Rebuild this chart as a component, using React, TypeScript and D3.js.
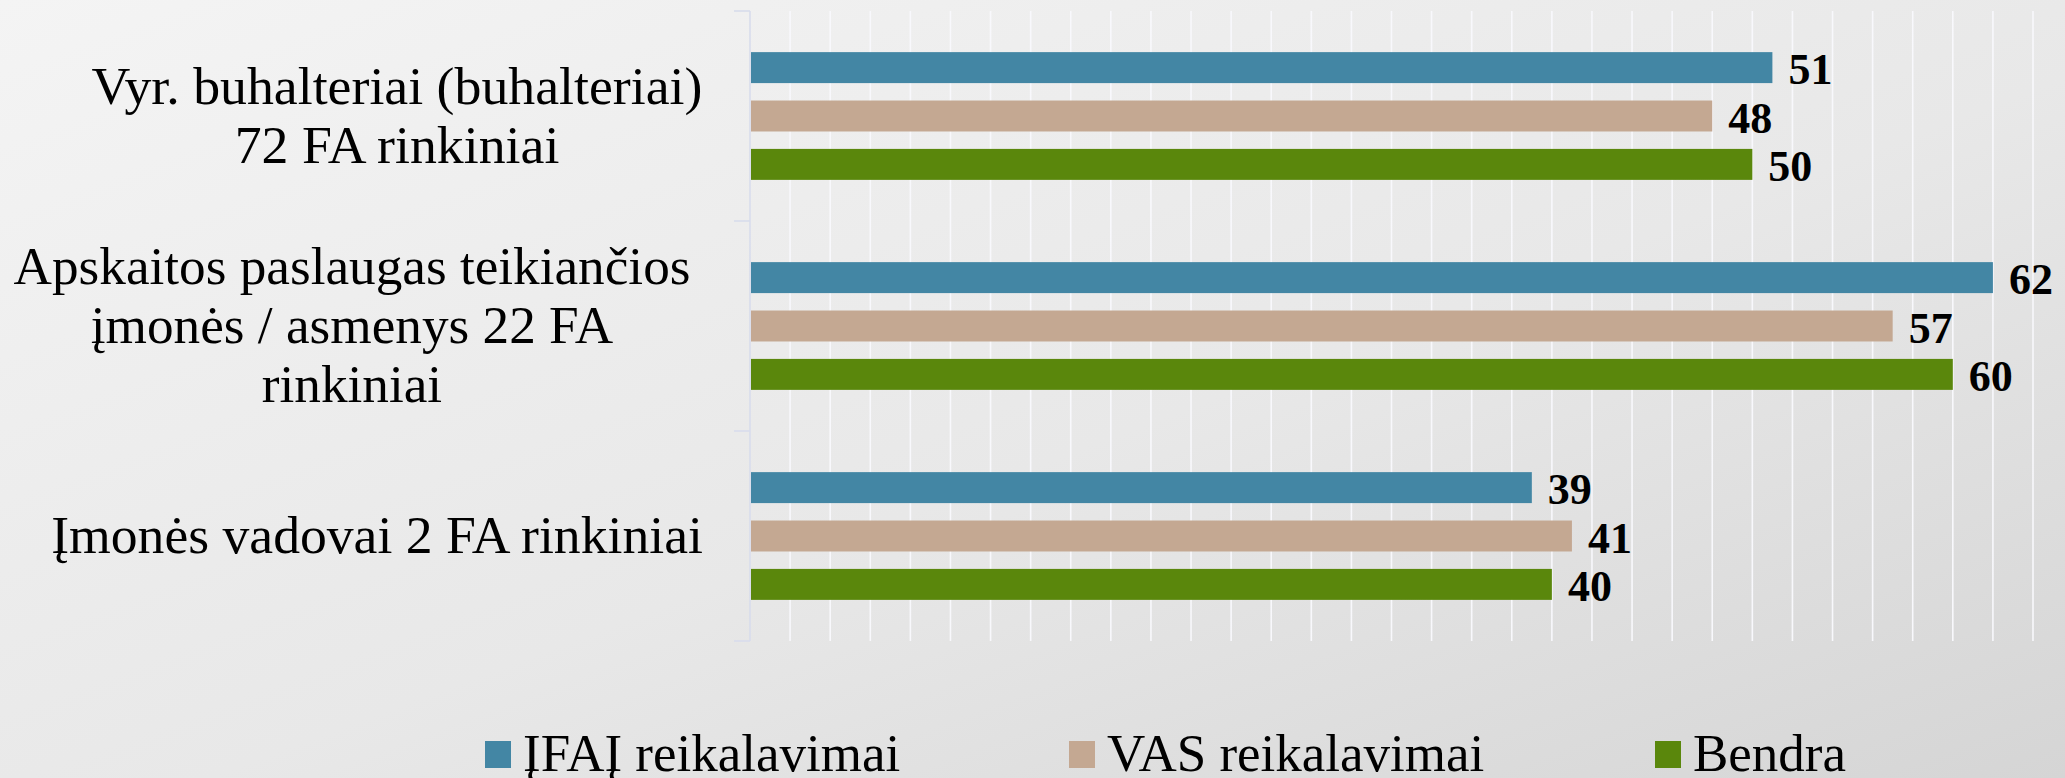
import { useEffect, useRef } from 'react';
import * as d3 from 'd3';

// Kategorijos (eilutėmis, kaip suskaidyta originale)
const categories = ['Vyr. buhalteriai', 'Apskaitos paslaugos', 'Įmonės vadovai'];
const categoryLines = [
  ['Vyr. buhalteriai (buhalteriai)', '72 FA rinkiniai'],
  ['Apskaitos paslaugas teikiančios', 'įmonės / asmenys 22 FA', 'rinkiniai'],
  ['Įmonės vadovai 2 FA rinkiniai'],
];
const seriesNames = ['ĮFAĮ reikalavimai', 'VAS reikalavimai', 'Bendra'];
const ifaiValues = [51, 62, 39];
const vasValues = [48, 57, 41];
const bendraValues = [50, 60, 40];
const xTicks = d3.range(0, 66, 2);

const colors = ['#4386a4', '#c4a892', '#5a870c'];

export default function App() {
  const svgRef = useRef<SVGSVGElement>(null);

  useEffect(() => {
    if (!svgRef.current) return;
    const svg = d3.select(svgRef.current);
    svg.selectAll('*').remove();

    const width = 2065;
    const height = 778;
    const plot = { left: 750, right: 2033, top: 11, bottom: 641 };
    const font = '"Liberation Serif", "Times New Roman", serif';

    svg.attr('width', width).attr('height', height);

    // fonas
    const defs = svg.append('defs');
    const grad = defs.append('linearGradient')
      .attr('id', 'bg')
      .attr('x1', '0%').attr('y1', '0%')
      .attr('x2', '100%').attr('y2', '100%');
    grad.append('stop').attr('offset', '0%').attr('stop-color', '#f4f4f4');
    grad.append('stop').attr('offset', '55%').attr('stop-color', '#e8e8e8');
    grad.append('stop').attr('offset', '100%').attr('stop-color', '#d5d5d5');
    svg.append('rect').attr('width', width).attr('height', height).attr('fill', 'url(#bg)');

    const xScale = d3.scaleLinear().domain([0, 64]).range([plot.left, plot.right]);
    const yGroup = d3.scaleBand<string>()
      .domain(categories)
      .range([plot.top, plot.bottom])
      .padding(0);
    const ySeries = d3.scaleBand<string>()
      .domain(seriesNames)
      .range([0, yGroup.bandwidth()])
      .paddingInner(0.36)
      .paddingOuter(0.85);

    // tinklelis
    svg.append('g')
      .selectAll('line')
      .data(xTicks.filter(t => t > 0))
      .enter()
      .append('line')
      .attr('x1', d => xScale(d))
      .attr('x2', d => xScale(d))
      .attr('y1', plot.top)
      .attr('y2', plot.bottom)
      .attr('stroke', '#f8f8fc')
      .attr('stroke-width', 1.6);

    // kategorijų ašis
    const axisColor = '#d8dcec';
    svg.append('line')
      .attr('x1', plot.left).attr('x2', plot.left)
      .attr('y1', plot.top).attr('y2', plot.bottom)
      .attr('stroke', axisColor).attr('stroke-width', 1.6);
    const boundaries = [...categories.map(c => yGroup(c) || 0), plot.bottom];
    svg.append('g')
      .selectAll('line')
      .data(boundaries)
      .enter()
      .append('line')
      .attr('x1', plot.left - 16).attr('x2', plot.left)
      .attr('y1', d => d).attr('y2', d => d)
      .attr('stroke', axisColor).attr('stroke-width', 1.6);

    const seriesValues = [ifaiValues, vasValues, bendraValues];
    const rows = categories.flatMap((c, ci) =>
      seriesNames.map((s, si) => ({ category: c, series: s, si, value: seriesValues[si][ci] }))
    );

    // stulpeliai
    svg.append('g')
      .selectAll('rect')
      .data(rows)
      .enter()
      .append('rect')
      .attr('x', xScale(0) + 1)
      .attr('y', d => (yGroup(d.category) || 0) + (ySeries(d.series) || 0))
      .attr('width', d => xScale(d.value) - xScale(0) - 1)
      .attr('height', ySeries.bandwidth())
      .attr('fill', d => colors[d.si]);

    // reikšmės
    svg.append('g')
      .selectAll('text')
      .data(rows)
      .enter()
      .append('text')
      .attr('x', d => xScale(d.value) + 16)
      .attr('y', d => (yGroup(d.category) || 0) + (ySeries(d.series) || 0) + ySeries.bandwidth() / 2)
      .attr('dy', 2)
      .attr('dominant-baseline', 'central')
      .attr('font-family', font)
      .attr('font-size', '44px')
      .attr('font-weight', '700')
      .attr('fill', '#000')
      .text(d => d.value);

    // kategorijų pavadinimai: bloko centras ir plačiausios eilutės plotis
    const labelCenters = [397, 352, 377];
    const labelWidths = [611, 677, 652];
    const lineHeight = 59;
    categories.forEach((c, ci) => {
      const lines = categoryLines[ci];
      const cy = (yGroup(c) || 0) + yGroup.bandwidth() / 2;
      const t = svg.append('text')
        .attr('font-family', font)
        .attr('font-size', '53px')
        .attr('fill', '#000')
        .attr('text-anchor', 'middle');
      const spans = t.selectAll('tspan')
        .data(lines)
        .enter()
        .append('tspan')
        .attr('x', labelCenters[ci])
        .attr('y', (_, i) => cy + (i - (lines.length - 1) / 2) * lineHeight + 17)
        .text(d => d);
      // pritaikome šrifto dydį, kad plačiausia eilutė atitiktų originalą
      let maxW = 0;
      spans.each(function () {
        maxW = Math.max(maxW, (this as SVGTSpanElement).getComputedTextLength());
      });
      if (maxW > 0) {
        const size = Math.max(48, Math.min(58, 53 * labelWidths[ci] / maxW));
        t.attr('font-size', `${size}px`);
      }
    });

    // legenda
    const legendX = [485, 1069, 1655];
    const legend = svg.append('g');
    seriesNames.forEach((s, si) => {
      legend.append('rect')
        .attr('x', legendX[si])
        .attr('y', 741)
        .attr('width', 26)
        .attr('height', 27)
        .attr('fill', colors[si]);
      legend.append('text')
        .attr('x', legendX[si] + 38)
        .attr('y', 771)
        .attr('font-family', font)
        .attr('font-size', '53px')
        .attr('fill', '#000')
        .text(s);
    });
  }, []);

  return (
    <div style={{ position: 'absolute', left: 0, top: 0, width: 2065, height: 778, overflow: 'hidden' }}>
      <svg ref={svgRef} style={{ display: 'block' }}></svg>
    </div>
  );
}
